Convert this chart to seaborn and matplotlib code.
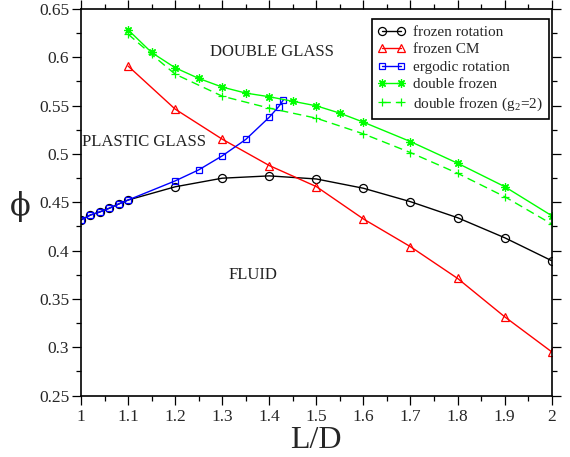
import numpy as np
import pandas as pd
import matplotlib
matplotlib.use("Agg")
import matplotlib.pyplot as plt
from matplotlib.ticker import MultipleLocator, FuncFormatter
import seaborn as sns

# L/D values and packing fractions of the transition lines
rot_x = [1.0, 1.02, 1.04, 1.06, 1.08, 1.1, 1.2, 1.3, 1.4, 1.5, 1.6, 1.7, 1.8, 1.9, 2.0]
rot_phi = [0.4317, 0.4368, 0.440, 0.4438, 0.4482, 0.4523, 0.466, 0.4749, 0.4773,
           0.4741, 0.4645, 0.4506, 0.434, 0.4133, 0.3895]

cm_x = [1.1, 1.2, 1.3, 1.4, 1.5, 1.6, 1.7, 1.8, 1.9, 2.0]
cm_phi = [0.591, 0.5464, 0.5153, 0.488, 0.4662, 0.4327, 0.404, 0.3712, 0.3315, 0.2952]

erg_x = [1.0, 1.02, 1.04, 1.06, 1.08, 1.1, 1.2, 1.25, 1.3, 1.35, 1.4, 1.42, 1.43]
erg_phi = [0.4317, 0.4368, 0.440, 0.4438, 0.4482, 0.4523, 0.4721, 0.4835, 0.498,
           0.515, 0.538, 0.549, 0.556]

dbl_x = [1.1, 1.15, 1.2, 1.25, 1.3, 1.35, 1.4, 1.45, 1.5, 1.55, 1.6, 1.7, 1.8, 1.9, 2.0]
dbl_phi = [0.6285, 0.605, 0.5892, 0.5782, 0.5692, 0.563, 0.5592, 0.5545, 0.5498,
           0.5422, 0.5329, 0.5128, 0.4904, 0.4662, 0.4361]

dbl2_x = [1.1, 1.15, 1.2, 1.3, 1.4, 1.5, 1.6, 1.7, 1.8, 1.9, 2.0]
dbl2_phi = [0.624, 0.603, 0.5826, 0.5598, 0.5474, 0.537, 0.5208, 0.5014, 0.480,
            0.4558, 0.4275]

x_ticks = [1.0, 1.1, 1.2, 1.3, 1.4, 1.5, 1.6, 1.7, 1.8, 1.9, 2.0]
y_ticks = [0.25, 0.3, 0.35, 0.4, 0.45, 0.5, 0.55, 0.6, 0.65]

sns.set_style("ticks")
plt.rcParams["font.family"] = ["Liberation Serif", "DejaVu Serif"]
plt.rcParams["mathtext.fontset"] = "stix"
plt.rcParams["lines.scale_dashes"] = False

fig = plt.figure(figsize=(5.7, 4.57), dpi=100)
ax = fig.add_axes([0.14211, 0.13457, 0.8258, 0.8457])

lw = 1.0
common = dict(ax=ax, lw=lw, markerfacecolor="none", markeredgewidth=0.9)

sns.lineplot(x=rot_x, y=rot_phi, color="black", marker="o", markersize=5.8,
             markeredgecolor="black", label="frozen rotation", **common)
sns.lineplot(x=cm_x, y=cm_phi, color="red", marker="^", markersize=6,
             markeredgecolor="red", label="frozen CM", **common)
sns.lineplot(x=erg_x, y=erg_phi, color="blue", marker="s", markersize=5,
             markeredgecolor="blue", label="ergodic rotation", **common)
sns.lineplot(x=dbl_x, y=dbl_phi, color="#00ff00", marker=(8, 2, 0), markersize=6,
             markeredgecolor="#00ff00", label="double frozen", **common)
sns.lineplot(x=dbl2_x, y=dbl2_phi, color="#00ff00", marker="+", markersize=6,
             markeredgecolor="#00ff00", linestyle=(0, (6, 3.6)),
             label=r"double frozen (g$_\mathregular{2}$=2)", **common)

ax.set_xlim(1.0, 2.0)
ax.set_ylim(0.25, 0.65)
ax.xaxis.set_major_locator(plt.FixedLocator(x_ticks))
ax.yaxis.set_major_locator(plt.FixedLocator(y_ticks))
ax.xaxis.set_minor_locator(MultipleLocator(0.05))
ax.yaxis.set_minor_locator(MultipleLocator(0.025))
fmt = FuncFormatter(lambda v, p: "%g" % round(v, 3))
ax.xaxis.set_major_formatter(fmt)
ax.yaxis.set_major_formatter(fmt)

for s in ax.spines.values():
    s.set_visible(True)
    s.set_linewidth(1.2)
    s.set_color("black")

ax.tick_params(which="both", direction="out", top=True, right=True,
               labeltop=False, labelright=False, color="black")
ax.tick_params(which="major", length=6.5, width=0.9, labelsize=12.5, pad=2)
ax.tick_params(axis="x", which="major", pad=3)
ax.tick_params(which="minor", length=3.6, width=0.9)

ax.set_xlabel("L/D", fontsize=23, labelpad=1)
ax.set_ylabel("\u03d5", fontsize=22, rotation=0, va="center", ha="center",
              family=["DejaVu Serif"])
ax.yaxis.set_label_coords(-0.13, 0.49)

txt_color = "#222222"
ax.text(1.406, 0.6058, "DOUBLE GLASS", fontsize=12, ha="center", va="center", color=txt_color)
ax.text(1.134, 0.5125, "PLASTIC GLASS", fontsize=12, ha="center", va="center", color=txt_color)
ax.text(1.365, 0.375, "FLUID", fontsize=12, ha="center", va="center", color=txt_color)

leg = ax.legend(loc="upper right", bbox_to_anchor=(0.994, 0.974), borderaxespad=0,
                numpoints=2, fontsize=11, frameon=True, fancybox=False,
                framealpha=1, edgecolor="black", handlelength=1.8,
                handletextpad=0.5, labelspacing=0.25, borderpad=0.4)
leg.get_frame().set_linewidth(1.2)

fig.savefig("out.png", dpi=100)
